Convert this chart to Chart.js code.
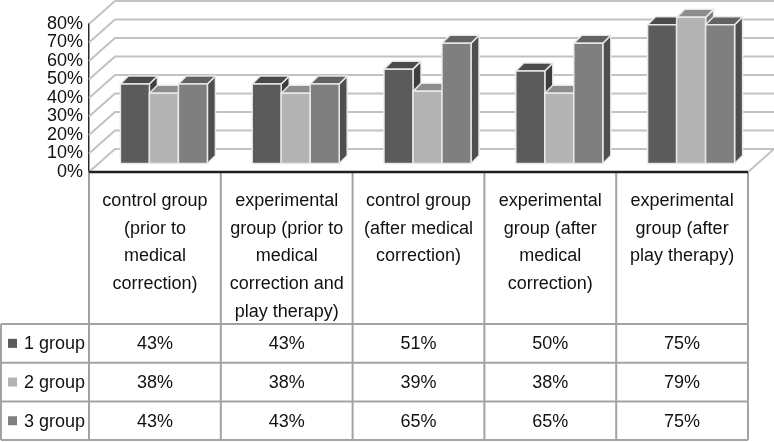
<!DOCTYPE html>
<html>
<head>
<meta charset="utf-8">
<script src="https://cdn.jsdelivr.net/npm/chart.js@4.4.1/dist/chart.umd.min.js"></script>
<style>
  html, body { margin: 0; padding: 0; background: #fff; }
  canvas { display: block; }
</style>
</head>
<body>
<canvas id="groupChart" width="774" height="442"></canvas>
<script>
// data
const categories = [
  ["control group", "(prior to", "medical", "correction)"],
  ["experimental", "group (prior to", "medical", "correction and", "play therapy)"],
  ["control group", "(after medical", "correction)"],
  ["experimental", "group (after", "medical", "correction)"],
  ["experimental", "group (after", "play therapy)"]
];
const seriesNames = ["1 group", "2 group", "3 group"];
const group1 = [43, 43, 51, 50, 75];
const group2 = [38, 38, 39, 38, 79];
const group3 = [43, 43, 65, 65, 75];
const yTicks = [0, 10, 20, 30, 40, 50, 60, 70, 80];

// shades for front / top / side of each series
const shades = [
  { front: "#5b5b5b", top: "#4a4a4a", side: "#3e3e3e" },
  { front: "#b3b3b3", top: "#8d8d8d", side: "#7a7a7a" },
  { front: "#7f7f7f", top: "#626262", side: "#4f4f4f" }
];

const FONT = '"Liberation Sans", Arial, sans-serif';
const TEXT = "#111111";
const WALL_DX = 26, WALL_DY = -23;   // depth of the floor / side wall
const BAR_DX = 9, BAR_DY = -8.5;     // bars stand in the middle of the floor
const SIDE_DX = 8, SIDE_DY = -8;     // thickness of each bar
const HEADER_BOTTOM = 324;
const ROW_H = 38.7;

function face(ctx, pts, fill) {
  ctx.beginPath();
  ctx.moveTo(pts[0][0], pts[0][1]);
  for (let i = 1; i < pts.length; i++) ctx.lineTo(pts[i][0], pts[i][1]);
  ctx.closePath();
  ctx.fillStyle = fill;
  ctx.fill();
  ctx.stroke();
}

const box3d = {
  id: "box3d",
  beforeDatasetsDraw(chart) {
    const { ctx, chartArea: a, scales: { y } } = chart;
    ctx.save();
    // side wall + back wall grid
    ctx.strokeStyle = "#c2c2c2";
    ctx.lineWidth = 2;
    yTicks.forEach(v => {
      const py = y.getPixelForValue(v);
      ctx.beginPath();
      ctx.moveTo(a.left, py);
      ctx.lineTo(a.left + WALL_DX, py + WALL_DY);
      ctx.lineTo(a.right + WALL_DX, py + WALL_DY);
      ctx.stroke();
    });
    ctx.beginPath();
    ctx.moveTo(a.right, a.bottom);
    ctx.lineTo(a.right + WALL_DX, a.bottom + WALL_DY);
    ctx.stroke();

    // bars, left to right so nearer faces cover the ones behind
    ctx.strokeStyle = "rgba(235,235,235,0.95)";
    ctx.lineWidth = 1.5;
    ctx.lineJoin = "round";
    for (let c = 0; c < categories.length; c++) {
      chart.data.datasets.forEach((ds, s) => {
        const bar = chart.getDatasetMeta(s).data[c];
        const x0 = bar.x - bar.width / 2 + BAR_DX;
        const x1 = bar.x + bar.width / 2 + BAR_DX;
        const yt = bar.y + BAR_DY;
        const yb = bar.base + BAR_DY;
        const sh = shades[s];
        face(ctx, [[x1, yt], [x1, yb], [x1 + SIDE_DX, yb + SIDE_DY], [x1 + SIDE_DX, yt + SIDE_DY]], sh.side);
        face(ctx, [[x0, yt], [x1, yt], [x1 + SIDE_DX, yt + SIDE_DY], [x0 + SIDE_DX, yt + SIDE_DY]], sh.top);
        face(ctx, [[x0, yt], [x1, yt], [x1, yb], [x0, yb]], sh.front);
      });
    }
    ctx.restore();
    return false;
  },
  afterDraw(chart) {
    const { ctx, chartArea: a } = chart;
    const colW = (a.right - a.left) / categories.length;
    const bottom = HEADER_BOTTOM + ROW_H * seriesNames.length;
    ctx.save();

    // table grid
    ctx.strokeStyle = "#a3a3a3";
    ctx.lineWidth = 2;
    for (let i = 0; i <= categories.length; i++) {
      const x = a.left + i * colW;
      ctx.beginPath();
      ctx.moveTo(x, a.bottom);
      ctx.lineTo(x, bottom);
      ctx.stroke();
    }
    for (let r = 0; r <= seriesNames.length; r++) {
      const yy = HEADER_BOTTOM + r * ROW_H;
      ctx.beginPath();
      ctx.moveTo(1, yy);
      ctx.lineTo(a.right, yy);
      ctx.stroke();
    }
    ctx.beginPath();
    ctx.moveTo(1, HEADER_BOTTOM);
    ctx.lineTo(1, bottom);
    ctx.stroke();

    // category axis line
    ctx.strokeStyle = "#1f1f1f";
    ctx.lineWidth = 2.5;
    ctx.beginPath();
    ctx.moveTo(a.left, a.bottom);
    ctx.lineTo(a.right, a.bottom);
    ctx.stroke();

    // header labels
    ctx.fillStyle = TEXT;
    ctx.font = "18px " + FONT;
    ctx.textAlign = "center";
    ctx.textBaseline = "middle";
    categories.forEach((lines, c) => {
      const cx = a.left + (c + 0.5) * colW;
      lines.forEach((t, i) => ctx.fillText(t, cx, a.bottom + 29 + i * 27.7));
    });

    // data rows
    chart.data.datasets.forEach((ds, s) => {
      const cy = HEADER_BOTTOM + s * ROW_H + ROW_H / 2;
      ctx.fillStyle = shades[s].front;
      ctx.fillRect(8, cy - 4.5, 9, 9);
      ctx.fillStyle = TEXT;
      ctx.textAlign = "left";
      ctx.fillText(ds.label, 24, cy + 1);
      ctx.textAlign = "center";
      ds.data.forEach((v, c) => {
        ctx.fillText(v + "%", a.left + (c + 0.5) * colW, cy + 1);
      });
    });
    ctx.restore();
  }
};

new Chart(document.getElementById("groupChart"), {
  type: "bar",
  data: {
    labels: categories,
    datasets: [
      { label: seriesNames[0], data: group1, backgroundColor: shades[0].front },
      { label: seriesNames[1], data: group2, backgroundColor: shades[1].front },
      { label: seriesNames[2], data: group3, backgroundColor: shades[2].front }
    ]
  },
  options: {
    responsive: false,
    animation: false,
    layout: { padding: { top: 24, bottom: 270, left: 0, right: 26 } },
    datasets: { bar: { categoryPercentage: 0.66, barPercentage: 1.0 } },
    plugins: { legend: { display: false }, tooltip: { enabled: false } },
    scales: {
      x: { display: false },
      y: {
        min: 0,
        max: 80,
        afterFit: scale => { scale.width = 89; },
        afterBuildTicks: scale => { scale.ticks = yTicks.map(v => ({ value: v })); },
        grid: { display: false, drawTicks: false },
        border: { display: true, color: "#2a2a2a", width: 1.5 },
        ticks: {
          autoSkip: false,
          padding: 6,
          color: TEXT,
          font: { family: FONT, size: 18 },
          callback: v => v + "%"
        }
      }
    }
  },
  plugins: [box3d]
});
</script>
</body>
</html>
